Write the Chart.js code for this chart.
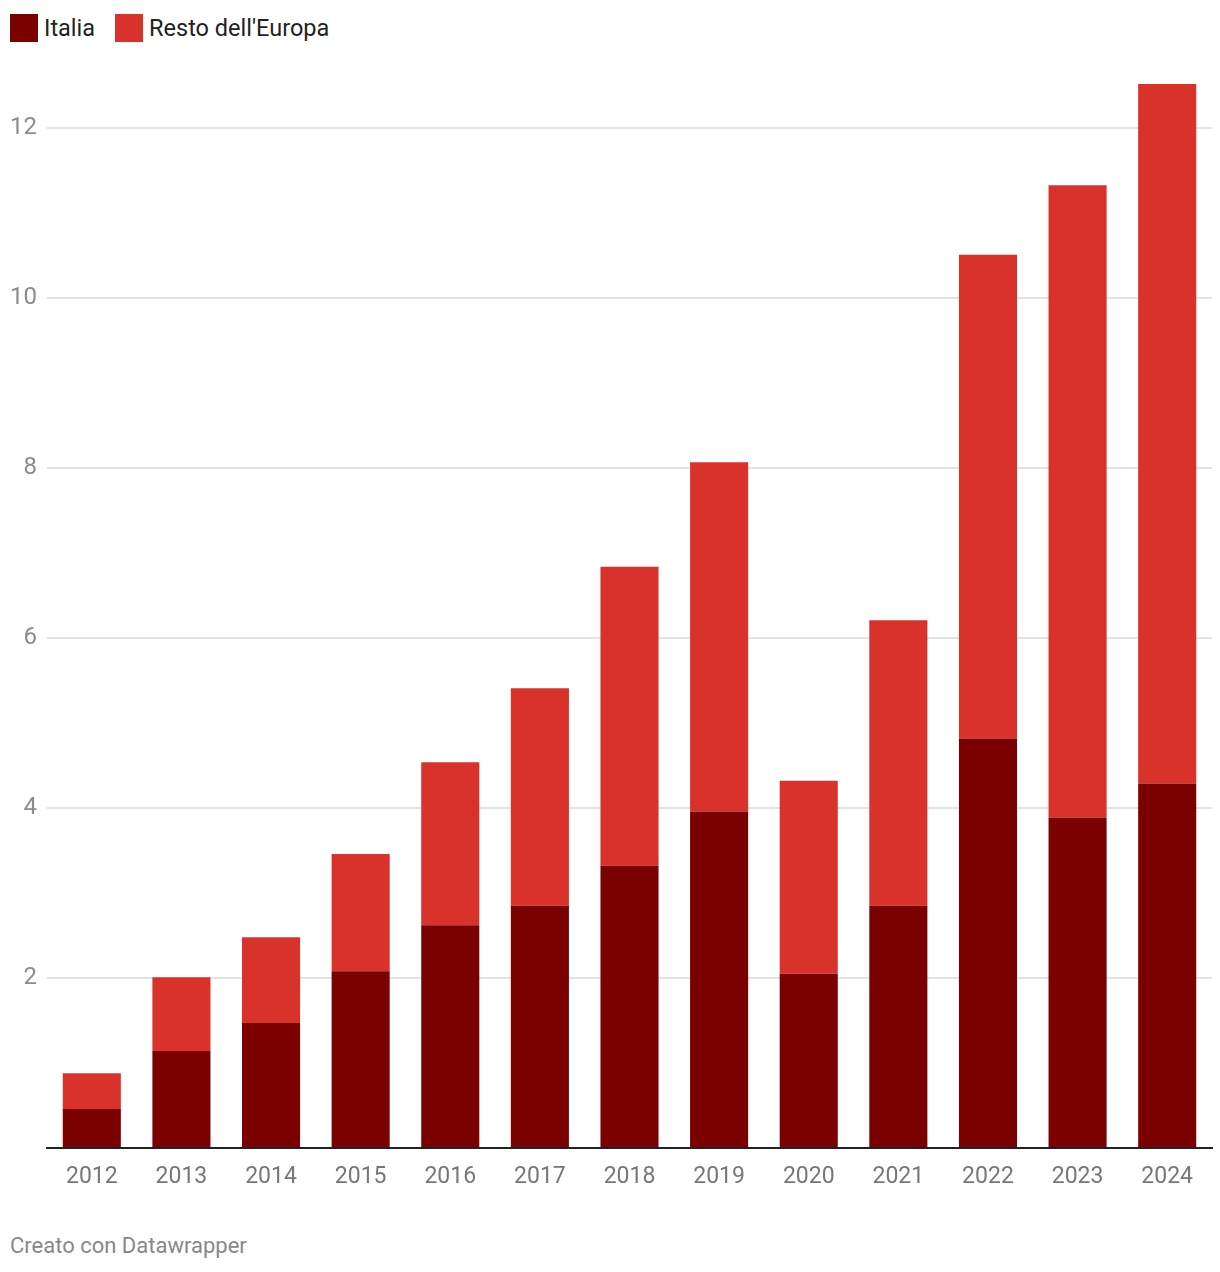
<!DOCTYPE html>
<html>
<head>
<meta charset="utf-8">
<script src="https://cdn.jsdelivr.net/npm/chart.js@4"></script>
<style>
  body { margin: 0; background: #fff; font-family: Roboto, sans-serif; }
  #legend { position: absolute; left: 10px; top: 14px; height: 28px; display: flex; align-items: center; font-size: 23.5px; color: #222; }
  #legend .item { display: flex; align-items: center; margin-right: 20px; }
  #legend .sw { width: 28px; height: 28px; margin-right: 6px; }
  #wrap { position: absolute; left: 0; top: 0; width: 1220px; height: 1200px; }
  #footer { position: absolute; left: 10px; top: 1233px; font-size: 22px; color: #888; }
</style>
</head>
<body>
<div id="legend"></div>
<div id="wrap"><canvas id="barGraph"></canvas></div>
<div id="footer">Creato con Datawrapper</div>
<script>
var years = ['2012', '2013', '2014', '2015', '2016', '2017', '2018', '2019', '2020', '2021', '2022', '2023', '2024'];
var italia = [0.46, 1.14, 1.47, 2.08, 2.62, 2.85, 3.32, 3.96, 2.05, 2.85, 4.82, 3.89, 4.29];
var totale = [0.88, 2.01, 2.48, 3.46, 4.54, 5.41, 6.84, 8.07, 4.32, 6.21, 10.51, 11.33, 12.52];
var resto = totale.map((t, i) => +(t - italia[i]).toFixed(2));

var colors = { italia: '#7b0000', resto: '#d9322b' };

var legend = document.getElementById('legend');
[['Italia', colors.italia], ["Resto dell'Europa", colors.resto]].forEach(function (d) {
    var item = document.createElement('div');
    item.className = 'item';
    item.innerHTML = '<span class="sw" style="background:' + d[1] + '"></span>' + d[0];
    legend.appendChild(item);
});

var ctx = document.getElementById('barGraph').getContext('2d');
new Chart(ctx, {
    type: 'bar',
    data: {
        labels: years,
        datasets: [
            { label: 'Italia', data: italia, backgroundColor: colors.italia, barPercentage: 0.648, categoryPercentage: 1 },
            { label: "Resto dell'Europa", data: resto, backgroundColor: colors.resto, barPercentage: 0.648, categoryPercentage: 1 }
        ]
    },
    options: {
        responsive: true,
        maintainAspectRatio: false,
        animation: false,
        layout: { padding: { top: 84, left: 0, right: 8, bottom: 0 } },
        plugins: { legend: { display: false }, tooltip: { enabled: false } },
        scales: {
            x: {
                stacked: true,
                grid: { display: false, drawTicks: false },
                border: { display: true, color: '#222', width: 2 },
                ticks: { color: '#777', padding: 15, font: { family: 'Roboto', size: 23 } },
                afterFit: function (axis) { axis.height = 52; }
            },
            y: {
                stacked: true,
                min: 0,
                max: Math.max(...totale),
                grid: { color: '#e3e3e3', lineWidth: 2, drawTicks: false },
                border: { display: false },
                ticks: {
                    stepSize: 2,
                    includeBounds: false,
                    padding: 10,
                    color: '#8c8c8c',
                    font: { family: 'Roboto', size: 24 },
                    callback: function (v) { return v === 0 ? '' : v; }
                },
                afterFit: function (axis) { axis.width = 47; }
            }
        }
    }
});
</script>
</body>
</html>
